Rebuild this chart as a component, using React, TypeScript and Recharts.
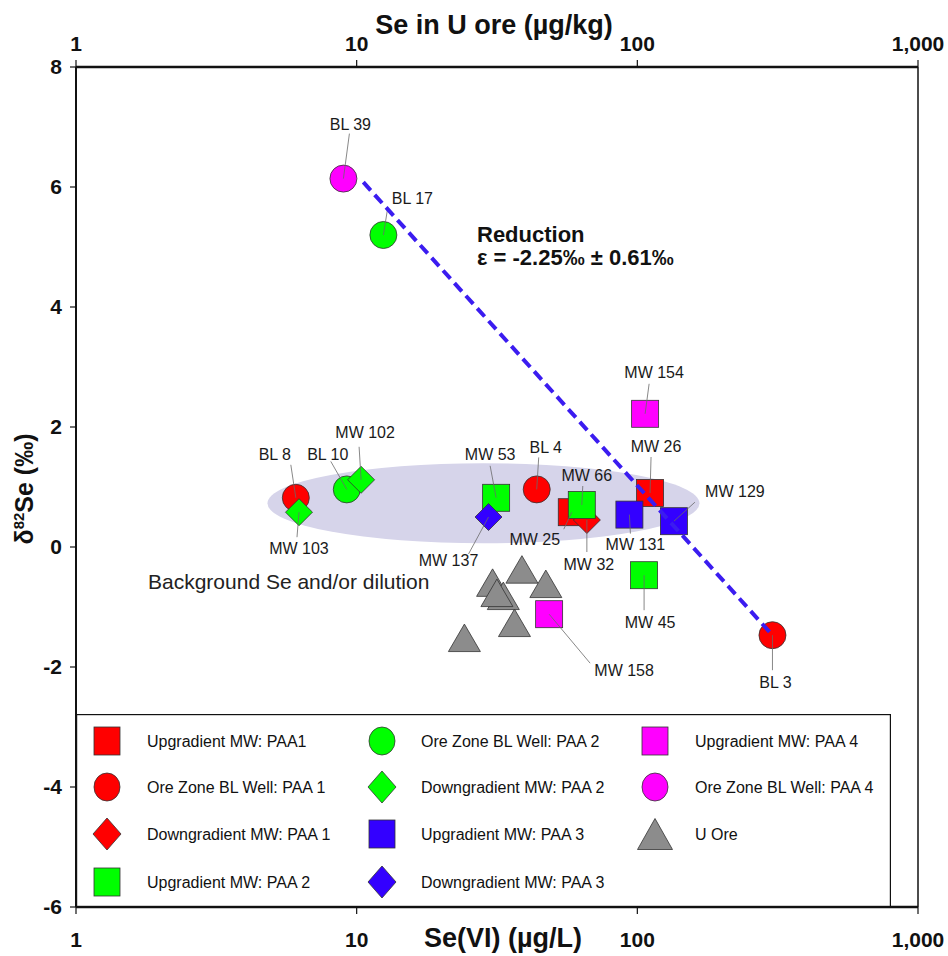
import { ScatterChart, Scatter, XAxis, YAxis, ReferenceLine, Legend } from 'recharts'

const FONT = '"Liberation Sans", Arial, Helvetica, sans-serif'
const RED = '#ff0000'
const GREEN = '#00ff00'
const BLUE = '#3300ff'
const MAGENTA = '#ff00ff'
const GREY = '#8c8c8c'
const LINE_BLUE = '#3b1cf0'

// Se(VI) (ug/L) vs d82Se (permil)
const upPAA1 = [
    { name: 'MW 25', x: 58.4, y: 0.58 },
    { name: 'MW 26', x: 111, y: 0.9 },
]
const orePAA1 = [
    { name: 'BL 8', x: 6.07, y: 0.82 },
    { name: 'BL 4', x: 43.8, y: 0.96 },
    { name: 'BL 3', x: 303, y: -1.47 },
]
const downPAA1 = [{ name: 'MW 32', x: 66.1, y: 0.45 }]
const upPAA2 = [
    { name: 'MW 53', x: 31.4, y: 0.82 },
    { name: 'MW 66', x: 63.4, y: 0.7 },
    { name: 'MW 45', x: 105.7, y: -0.47 },
]
const orePAA2 = [
    { name: 'BL 17', x: 12.45, y: 5.2 },
    { name: 'BL 10', x: 9.22, y: 0.96 },
]
const downPAA2 = [
    { name: 'MW 103', x: 6.23, y: 0.58 },
    { name: 'MW 102', x: 10.37, y: 1.12 },
]
const upPAA3 = [
    { name: 'MW 131', x: 93.7, y: 0.54 },
    { name: 'MW 129', x: 135, y: 0.43 },
]
const downPAA3 = [{ name: 'MW 137', x: 29.5, y: 0.5 }]
const upPAA4 = [
    { name: 'MW 154', x: 106.6, y: 2.22 },
    { name: 'MW 158', x: 48.5, y: -1.12 },
]
const orePAA4 = [{ name: 'BL 39', x: 8.97, y: 6.14 }]
// Se in U ore (ug/kg), on the top axis
const uOre = [
    { x: 38.8, y: -0.45 },
    { x: 47.2, y: -0.69 },
    { x: 30.5, y: -0.67 },
    { x: 33.3, y: -0.89 },
    { x: 31.6, y: -0.84 },
    { x: 36.5, y: -1.34 },
    { x: 24.2, y: -1.59 },
]

// reduction trend (BL 39 -> BL 3) and background cluster centre
const reductionLine = [
    { x: 10.56, y: 6.08 },
    { x: 303, y: -1.47 },
]
const backgroundZone = [{ x: 28.3, y: 0.73 }]

const xTicks = [1, 10, 100, 1000]
const yTicks = [-6, -4, -2, 0, 2, 4, 6, 8]

const series = [
    { name: 'Upgradient MW: PAA1', data: upPAA1, fill: RED, kind: 'square', axis: 'bottom' },
    { name: 'Ore Zone BL Well: PAA 1', data: orePAA1, fill: RED, kind: 'circle', axis: 'bottom' },
    { name: 'Downgradient MW: PAA 1', data: downPAA1, fill: RED, kind: 'diamond', axis: 'bottom' },
    { name: 'Upgradient MW: PAA 2', data: upPAA2, fill: GREEN, kind: 'square', axis: 'bottom' },
    { name: 'Ore Zone BL Well: PAA 2', data: orePAA2, fill: GREEN, kind: 'circle', axis: 'bottom' },
    { name: 'Downgradient MW: PAA 2', data: downPAA2, fill: GREEN, kind: 'diamond', axis: 'bottom' },
    { name: 'Upgradient MW: PAA 3', data: upPAA3, fill: BLUE, kind: 'square', axis: 'bottom' },
    { name: 'Downgradient MW: PAA 3', data: downPAA3, fill: BLUE, kind: 'diamond', axis: 'bottom' },
    { name: 'Upgradient MW: PAA 4', data: upPAA4, fill: MAGENTA, kind: 'square', axis: 'bottom' },
    { name: 'Ore Zone BL Well: PAA 4', data: orePAA4, fill: MAGENTA, kind: 'circle', axis: 'bottom' },
    { name: 'U Ore', data: uOre, fill: GREY, kind: 'triangle', axis: 'top' },
]

const labelled = [
    ...upPAA1, ...orePAA1, ...downPAA1, ...upPAA2, ...orePAA2,
    ...downPAA2, ...upPAA3, ...downPAA3, ...upPAA4, ...orePAA4,
]

// label placement: [text dx, text dy, leader end dx, leader end dy] in px from the point
const labelOffsets: Record<string, number[]> = {
    'BL 39': [7, -54, 6, -45],
    'BL 17': [29, -37, 4, -25],
    'BL 8': [-21, -43, -5, -33],
    'MW 103': [0, 36, -2, 25],
    'BL 10': [-19, -35, -16, -28],
    'MW 102': [4, -47, -2, -33],
    'MW 53': [-6, -43, -6, -32],
    'MW 137': [-40, 43, -20, 37],
    'BL 4': [9, -42, 2, -32],
    'MW 66': [5, -30, 1, -19],
    'MW 25': [-37, 27, -8, 17],
    'MW 32': [2, 44, 0, 32],
    'MW 26': [6, -47, 1, -36],
    'MW 131': [6, 30, 1, 19],
    'MW 129': [61, -30, 21, -19],
    'MW 154': [9, -41, 4, -30],
    'MW 45': [6, 47, 0, 35],
    'MW 158': [75, 56, 41, 49],
    'BL 3': [3, 47, 0, 35],
}

function Marker({ kind, cx, cy, fill, w, h, legend }: any) {
    const common = { fill, stroke: '#333', strokeWidth: 0.8 }
    if (kind === 'square') return <rect x={cx - w / 2} y={cy - h / 2} width={w} height={h} {...common} />
    if (kind === 'circle') return <ellipse cx={cx} cy={cy} rx={w / 2} ry={h / 2} {...common} />
    if (kind === 'diamond') {
        const pts = `${cx},${cy - h / 2} ${cx + w / 2},${cy} ${cx},${cy + h / 2} ${cx - w / 2},${cy}`
        return <polygon points={pts} {...common} />
    }
    const top = legend ? cy - h / 2 : cy - (2 * h) / 3
    const pts = `${cx},${top} ${cx + w / 2},${top + h} ${cx - w / 2},${top + h}`
    return <polygon points={pts} {...common} />
}

const plotSize: Record<string, number[]> = {
    square: [27, 27],
    circle: [27, 27],
    diamond: [27, 27],
    triangle: [32, 27.5],
}
const legendSize: Record<string, number[]> = {
    square: [26, 28],
    circle: [26, 28],
    diamond: [28, 32],
    triangle: [35, 31],
}

function PointLabel(props: any) {
    const { cx, cy, payload } = props
    const off = labelOffsets[payload.name]
    if (!off) return <g />
    return (
        <g>
            <line x1={cx} y1={cy} x2={cx + off[2]} y2={cy + off[3]} stroke="#6a6a6a" strokeWidth={0.8} />
            <text x={cx + off[0]} y={cy + off[1]} dy="0.35em" textAnchor="middle" fontSize={16} fontFamily={FONT} fill="#1a1a1a">
                {payload.name}
            </text>
        </g>
    )
}

function LegendBox() {
    const colX = [[31, 71], [306, 345], [579, 619]]
    const rowY = [27, 73, 120, 168]
    return (
        <svg width={815} height={193} style={{ display: 'block' }}>
            <rect x={0.6} y={0.6} width={813.8} height={191.8} fill="#fff" stroke="#111" strokeWidth={1.2} />
            {series.map((s, i) => {
                const col = colX[Math.floor(i / 4)]
                const cy = rowY[i % 4]
                const [w, h] = legendSize[s.kind]
                return (
                    <g key={s.name}>
                        <Marker kind={s.kind} cx={col[0]} cy={cy} fill={s.fill} w={w} h={h} legend />
                        <text x={col[1]} y={cy} dy="0.35em" fontSize={16} fontFamily={FONT} fill="#111">
                            {s.name}
                        </text>
                    </g>
                )
            })}
        </svg>
    )
}

function XTick({ x, y, payload, top }: any) {
    return (
        <text x={x} y={top ? y - 9 : y + 33} textAnchor="middle" fontSize={21} fontWeight={700} fontFamily={FONT} fill="#111">
            {Number(payload.value).toLocaleString('en-US')}
        </text>
    )
}

function YTick({ x, y, payload }: any) {
    return (
        <text x={x} y={y} dy="0.35em" textAnchor="end" fontSize={21} fontWeight={700} fontFamily={FONT} fill="#111">
            {payload.value}
        </text>
    )
}

export default function App() {
    return (
        <div style={{ position: 'absolute', left: 0, top: 0, width: 948, height: 956, background: '#fff' }}>
            <ScatterChart width={948} height={956} margin={{ top: 27, right: 30, bottom: 9, left: 16 }}>
                <XAxis
                    xAxisId="bottom"
                    dataKey="x"
                    type="number"
                    scale="log"
                    domain={[1, 1000]}
                    ticks={xTicks}
                    height={40}
                    tickSize={7}
                    tickMargin={0}
                    axisLine={{ stroke: '#111', strokeWidth: 2.6 }}
                    tickLine={{ stroke: '#111', strokeWidth: 1.2 }}
                    tick={<XTick />}
                    allowDataOverflow
                />
                <XAxis
                    xAxisId="top"
                    dataKey="x"
                    orientation="top"
                    type="number"
                    scale="log"
                    domain={[1, 1000]}
                    ticks={xTicks}
                    height={40}
                    tickSize={7}
                    tickMargin={0}
                    axisLine={{ stroke: '#111', strokeWidth: 2.6 }}
                    tickLine={{ stroke: '#111', strokeWidth: 1.2 }}
                    tick={<XTick top />}
                    allowDataOverflow
                />
                <YAxis
                    dataKey="y"
                    type="number"
                    domain={[-6, 8]}
                    ticks={yTicks}
                    width={60}
                    tickSize={6}
                    tickMargin={8}
                    axisLine={{ stroke: '#111', strokeWidth: 2 }}
                    tickLine={{ stroke: '#111', strokeWidth: 1.2 }}
                    tick={<YTick />}
                    allowDataOverflow
                />
                <ReferenceLine xAxisId="bottom" x={1000} stroke="#111" strokeWidth={1.5} />
                <Legend
                    layout="vertical"
                    align="center"
                    verticalAlign="middle"
                    content={() => <LegendBox />}
                    wrapperStyle={{ left: 76, top: 714, width: 815, height: 193 }}
                />
                <Scatter
                    xAxisId="bottom"
                    data={backgroundZone}
                    legendType="none"
                    isAnimationActive={false}
                    shape={(p: any) => <ellipse cx={p.cx} cy={p.cy} rx={216} ry={40} fill="#d6d4ea" />}
                />
                {series.map((s) => (
                    <Scatter
                        key={s.name}
                        xAxisId={s.axis}
                        name={s.name}
                        data={s.data}
                        fill={s.fill}
                        isAnimationActive={false}
                        shape={(p: any) => (
                            <Marker kind={s.kind} cx={p.cx} cy={p.cy} fill={s.fill} w={plotSize[s.kind][0]} h={plotSize[s.kind][1]} />
                        )}
                    />
                ))}
                <Scatter
                    xAxisId="bottom"
                    data={labelled}
                    legendType="none"
                    isAnimationActive={false}
                    shape={(p: any) => <PointLabel {...p} />}
                />
                <Scatter
                    xAxisId="bottom"
                    data={reductionLine}
                    legendType="none"
                    isAnimationActive={false}
                    line={{ stroke: LINE_BLUE, strokeWidth: 4, strokeDasharray: '11 6' }}
                    lineType="joint"
                    shape={() => <g />}
                />
            </ScatterChart>
            <svg width={948} height={956} style={{ position: 'absolute', left: 0, top: 0, pointerEvents: 'none' }}>
                <g fontFamily={FONT} fill="#111">
                    <text x={494} y={34} textAnchor="middle" fontSize={27} fontWeight={700}>Se in U ore (µg/kg)</text>
                    <text x={503} y={947} textAnchor="middle" fontSize={27} fontWeight={700}>Se(VI) (µg/L)</text>
                    <text transform="translate(24,489) rotate(-90)" textAnchor="middle" dy="0.35em" fontSize={25} fontWeight={700}>
                        δ<tspan dy={-9} fontSize={15}>82</tspan><tspan dy={9}>Se (‰)</tspan>
                    </text>
                    <text x={477} y={242} fontSize={22} fontWeight={700}>Reduction</text>
                    <text x={477} y={265} fontSize={22} fontWeight={700}>ε = -2.25‰ ± 0.61‰</text>
                    <text x={148} y={589} fontSize={21} fill="#222">Background Se and/or dilution</text>
                </g>
            </svg>
        </div>
    )
}
